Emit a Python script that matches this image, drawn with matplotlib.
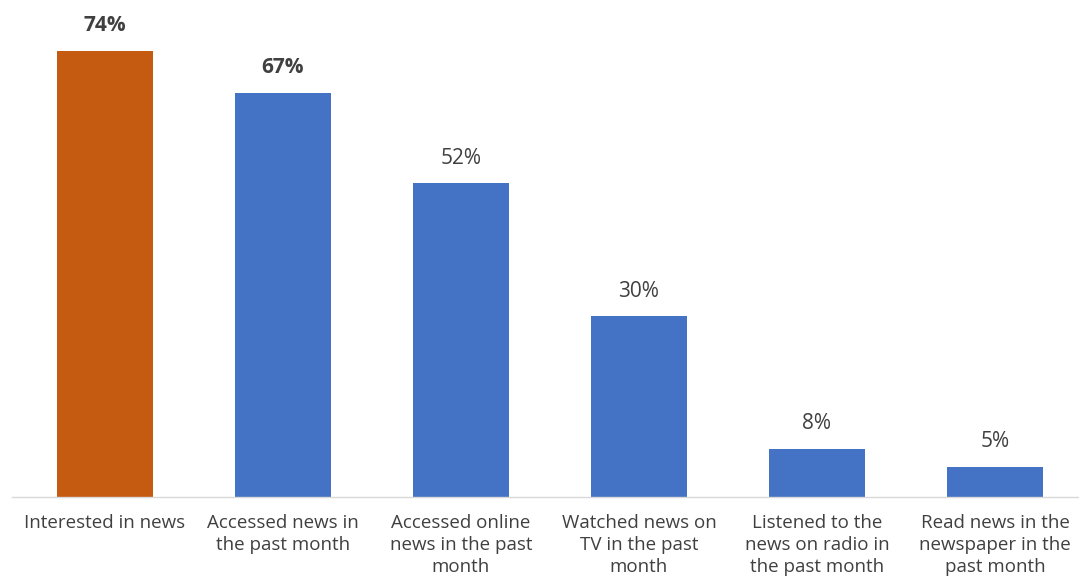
import matplotlib
matplotlib.use('Agg')
import matplotlib.pyplot as plt

categories = [
    'Interested in news',
    'Accessed news in\nthe past month',
    'Accessed online\nnews in the past\nmonth',
    'Watched news on\nTV in the past\nmonth',
    'Listened to the\nnews on radio in\nthe past month',
    'Read news in the\nnewspaper in the\npast month',
]
values = [74, 67, 52, 30, 8, 5]
bold_labels = [True, True, False, False, False, False]

ORANGE = '#C55A11'
BLUE = '#4472C4'
TEXT = '#404040'
colors = [ORANGE] + [BLUE] * (len(values) - 1)

plt.rcParams['font.family'] = ['Open Sans', 'DejaVu Sans']

fig = plt.figure(figsize=(10.79, 5.76), dpi=100)
ax = fig.add_axes([12 / 1079, 1 - 497 / 576, 1067 / 1079, 497 / 576])

x = range(len(values))
ax.bar(x, values, width=0.54, color=colors, zorder=2)

for xi, v, b in zip(x, values, bold_labels):
    ax.annotate(f'{v}%', (xi, v), xytext=(0, 18), textcoords='offset points',
                ha='center', va='center', fontsize=15, color=TEXT,
                fontweight='bold' if b else 'normal')

ax.set_xlim(-0.522, 5.472)
ax.set_ylim(0, 82.4)
ax.set_xticks(list(x))
ax.set_xticklabels(categories, fontsize=13.5, color=TEXT, linespacing=1.3)
ax.tick_params(axis='x', length=0, pad=12)
ax.set_yticks([])
for side in ['top', 'left', 'right']:
    ax.spines[side].set_visible(False)
ax.spines['bottom'].set_color('#D9D9D9')
ax.spines['bottom'].set_linewidth(1.0)

fig.savefig('out.png', dpi=100)
